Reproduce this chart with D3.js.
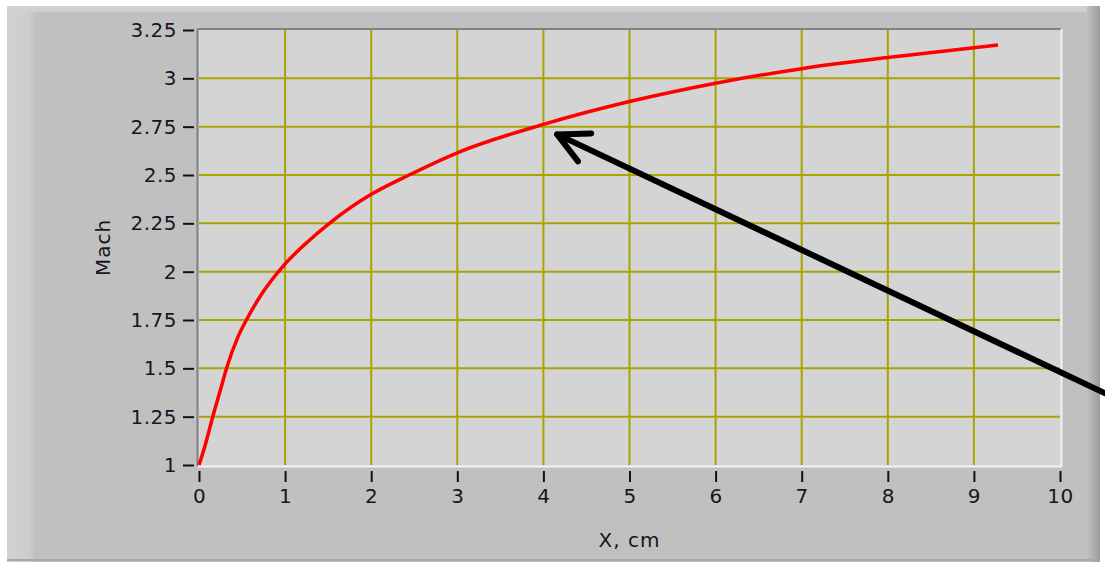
<!DOCTYPE html>
<html>
<head>
<meta charset="utf-8">
<script src="https://cdn.jsdelivr.net/npm/d3@7"></script>
<style>
  html, body { margin: 0; padding: 0; background: #ffffff; }
  svg { display: block; }
  text { font-family: "DejaVu Sans", Verdana, sans-serif; fill: #16161e; }
</style>
</head>
<body>
<svg id="chart" width="1105" height="564"></svg>
<script>
// ---- data ----
const xValues    = [0, 0.07, 0.16, 0.25, 0.32, 0.45, 0.55, 0.7, 1.0, 1.25, 1.5, 2.0, 2.44, 3.0, 4.0, 5.0, 6.0, 7.0, 8.0, 9.0, 9.28];
const machValues = [1, 1.10, 1.25, 1.39, 1.50, 1.66, 1.75, 1.865, 2.04, 2.15, 2.245, 2.40, 2.50, 2.615, 2.762, 2.88, 2.975, 3.05, 3.108, 3.158, 3.172];
const xTicks     = [0, 1, 2, 3, 4, 5, 6, 7, 8, 9, 10];
const yTicks     = [1, 1.25, 1.5, 1.75, 2, 2.25, 2.5, 2.75, 3, 3.25];
const yTickLabels = ["1", "1.25", "1.5", "1.75", "2", "2.25", "2.5", "2.75", "3", "3.25"];
const xTitle = "X, cm";
const yTitle = "Mach";
// annotation arrow: tip and tail in data units
const arrowTip  = [4.16, 2.71];
const arrowTail = [10.6, 1.355];

const svg = d3.select("#chart");
const W = 1105, H = 564;

// ---- panel frame ----
svg.append("rect").attr("x", 0).attr("y", 0).attr("width", W).attr("height", H).attr("fill", "#ffffff");
svg.append("rect").attr("x", 7).attr("y", 6).attr("width", 1093).attr("height", 556).attr("fill", "#c0c0c0");
const defs = svg.append("defs");
const gl = defs.append("linearGradient").attr("id", "leftG").attr("x1", 0).attr("x2", 1);
gl.append("stop").attr("offset", 0).attr("stop-color", "#d2d2d2");
gl.append("stop").attr("offset", 0.75).attr("stop-color", "#cdcdcd");
gl.append("stop").attr("offset", 1).attr("stop-color", "#c0c0c0");
svg.append("rect").attr("x", 7).attr("y", 6).attr("width", 29).attr("height", 556).attr("fill", "url(#leftG)");
svg.append("rect").attr("x", 7).attr("y", 6).attr("width", 1093).attr("height", 6).attr("fill", "#d0d0d0");
const gr = defs.append("linearGradient").attr("id", "rightG").attr("x1", 0).attr("x2", 1);
gr.append("stop").attr("offset", 0).attr("stop-color", "#c0c0c0");
gr.append("stop").attr("offset", 1).attr("stop-color", "#9c9c9c");
svg.append("rect").attr("x", 1087).attr("y", 6).attr("width", 13).attr("height", 556).attr("fill", "url(#rightG)");
svg.append("rect").attr("x", 7).attr("y", 559).attr("width", 1093).attr("height", 2).attr("fill", "#a8a8a8");

// ---- scales ----
const x = d3.scaleLinear().domain([0, 10]).range([199, 1060]);
const y = d3.scaleLinear().domain([1, 3.25]).range([465, 30]);

// plot background
svg.append("rect")
  .attr("x", x(0) - 1).attr("y", y(3.25) - 1)
  .attr("width", x(10) - x(0) + 2).attr("height", y(1) - y(3.25) + 2)
  .attr("fill", "#d4d4d4");

// grid
const gridColor = "#a8a400";
svg.append("g").selectAll("line").data(xTicks.filter(d => d > 0 && d < 10)).join("line")
  .attr("x1", d => x(d)).attr("x2", d => x(d))
  .attr("y1", y(3.25)).attr("y2", y(1))
  .attr("stroke", gridColor).attr("stroke-width", 2);
svg.append("g").selectAll("line").data(yTicks.filter(d => d > 1 && d < 3.25)).join("line")
  .attr("x1", x(0)).attr("x2", x(10))
  .attr("y1", d => y(d)).attr("y2", d => y(d))
  .attr("stroke", gridColor).attr("stroke-width", 2);

// plot border (sunken look)
svg.append("line").attr("x1", x(0) - 1.5).attr("x2", x(10) + 1).attr("y1", y(3.25) - 1).attr("y2", y(3.25) - 1)
  .attr("stroke", "#808080").attr("stroke-width", 2);
svg.append("line").attr("x1", x(0) - 1.5).attr("x2", x(0) - 1.5).attr("y1", y(3.25) - 1).attr("y2", y(1) + 1)
  .attr("stroke", "#808080").attr("stroke-width", 2);
svg.append("line").attr("x1", x(0) - 1).attr("x2", x(10) + 2).attr("y1", y(1) + 1.5).attr("y2", y(1) + 1.5)
  .attr("stroke", "#f2f2f2").attr("stroke-width", 2);
svg.append("line").attr("x1", x(10) + 1.5).attr("x2", x(10) + 1.5).attr("y1", y(3.25) - 1).attr("y2", y(1) + 2)
  .attr("stroke", "#f2f2f2").attr("stroke-width", 2);

// ---- axes ----
const fontSize = 20;
const yAxis = d3.axisLeft(y).tickValues(yTicks)
  .tickFormat((d, i) => yTickLabels[i]).tickSize(11).tickPadding(6);
const yG = svg.append("g").attr("transform", `translate(${x(0) - 5},0)`).call(yAxis);
yG.select(".domain").remove();
yG.selectAll(".tick line").attr("stroke", "#111").attr("stroke-width", 2);
yG.selectAll(".tick text").attr("font-size", fontSize).attr("letter-spacing", "0.5px")
  .attr("font-family", "DejaVu Sans").attr("fill", "#16161e");

const xAxis = d3.axisBottom(x).tickValues(xTicks).tickFormat(d3.format("d")).tickSize(11).tickPadding(7);
const xG = svg.append("g").attr("transform", `translate(0,${y(1) + 6})`).call(xAxis);
xG.select(".domain").remove();
xG.selectAll(".tick line").attr("stroke", "#111").attr("stroke-width", 2);
xG.selectAll(".tick text").attr("font-size", fontSize).attr("letter-spacing", "0.5px")
  .attr("font-family", "DejaVu Sans").attr("fill", "#16161e");

// axis titles
svg.append("text").attr("x", (x(0) + x(10)) / 2).attr("y", 547)
  .attr("text-anchor", "middle").attr("font-size", fontSize).attr("letter-spacing", "1px")
  .text(xTitle);
svg.append("text")
  .attr("transform", `translate(110,${(y(1) + y(3.25)) / 2}) rotate(-90)`)
  .attr("text-anchor", "middle").attr("font-size", fontSize).attr("letter-spacing", "1px")
  .text(yTitle);

// ---- data line ----
const pts = xValues.map((v, i) => [v, machValues[i]]);
const line = d3.line().x(d => x(d[0])).y(d => y(d[1])).curve(d3.curveMonotoneX);
svg.append("path").datum(pts).attr("d", line)
  .attr("fill", "none").attr("stroke", "#ff0000").attr("stroke-width", 3.5)
  .attr("stroke-linejoin", "round");

// ---- annotation arrow ----
const tx = x(arrowTip[0]), ty = y(arrowTip[1]);
const sx = x(arrowTail[0]), sy = y(arrowTail[1]);
const ang = Math.atan2(sy - ty, sx - tx);
const armLen = 34, spread = 27 * Math.PI / 180;
const a1 = [tx + armLen * Math.cos(ang - spread), ty + armLen * Math.sin(ang - spread)];
const a2 = [tx + armLen * Math.cos(ang + spread), ty + armLen * Math.sin(ang + spread)];
const arrow = svg.append("g").attr("stroke", "#000").attr("stroke-width", 6)
  .attr("stroke-linecap", "round").attr("stroke-linejoin", "round").attr("fill", "none");
arrow.append("line").attr("x1", sx).attr("y1", sy).attr("x2", tx).attr("y2", ty);
arrow.append("path").attr("d", `M${a1[0]},${a1[1]}L${tx},${ty}L${a2[0]},${a2[1]}`);
</script>
</body>
</html>
